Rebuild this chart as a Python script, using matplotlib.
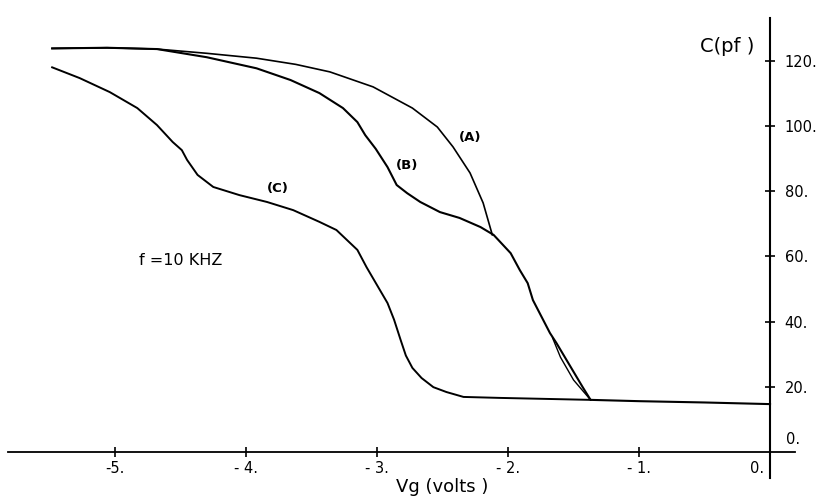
import matplotlib.pyplot as plt

# C-V curves (gate voltage in volts, capacitance in pF)
vg_a = [-5.48, -5.06, -4.68, -4.30, -3.92, -3.62, -3.36, -3.03, -2.73, -2.54,
        -2.42, -2.29, -2.19, -2.12]
c_a = [123.8, 124.0, 123.6, 122.3, 120.8, 118.9, 116.6, 112.0, 105.5, 99.7,
       93.6, 85.6, 76.4, 66.6]

vg_b = [-5.48, -5.06, -4.68, -4.30, -3.92, -3.66, -3.44, -3.26, -3.15, -3.09, -3.01,
        -2.92, -2.85, -2.77, -2.67, -2.52, -2.37, -2.21, -2.11, -1.98, -1.91, -1.85,
        -1.81, -1.68, -1.63, -1.43, -1.37, -1.0, -0.5, 0.0]
c_b = [123.8, 124.0, 123.6, 121.1, 117.7, 114.1, 110.1, 105.5, 101.2, 97.2, 93.0,
       87.4, 81.9, 79.4, 76.7, 73.6, 71.8, 69.0, 66.6, 61.0, 55.8, 51.8,
       46.6, 36.5, 33.4, 19.9, 16.0, 15.6, 15.2, 14.7]

# small hysteresis loop near the foot of curve B
vg_loop = [-1.66, -1.60, -1.50, -1.37]
c_loop = [35.0, 29.1, 22.1, 16.0]

vg_c = [-5.48, -5.27, -5.04, -4.83, -4.68, -4.56, -4.49, -4.45, -4.37, -4.25, -4.05,
        -3.84, -3.64, -3.44, -3.31, -3.15, -3.08, -3.00, -2.92, -2.87, -2.82, -2.78,
        -2.73, -2.66, -2.57, -2.47, -2.34, -2.06, -1.37]
c_c = [118.0, 114.7, 110.4, 105.5, 100.3, 95.1, 92.6, 89.6, 85.0, 81.3, 78.8,
       76.7, 74.2, 70.6, 68.1, 62.0, 56.7, 51.2, 45.7, 40.6, 34.4, 29.6,
       25.8, 22.7, 19.9, 18.4, 16.9, 16.6, 16.0]

x_ticks = [-5, -4, -3, -2, -1]
x_labels = ['-5.', '- 4.', '- 3.', '- 2.', '- 1.']
y_ticks = [20, 40, 60, 80, 100, 120]
y_labels = ['20.', '40.', '60.', '80.', '100.', '120.']

fig = plt.figure(figsize=(8.21, 4.98), dpi=100)
ax = fig.add_axes([0, 0, 1, 1])

ax.plot(vg_a, c_a, color='black', lw=1.2)
ax.plot(vg_b, c_b, color='black', lw=1.5)
ax.plot(vg_loop, c_loop, color='black', lw=1.0)
ax.plot(vg_c, c_c, color='black', lw=1.4)

ax.set_xlim(-5.878, 0.389)
ax.set_ylim(-14.1, 138.65)

for s in ['left', 'top']:
    ax.spines[s].set_visible(False)
ax.spines['right'].set_position(('data', 0))
ax.spines['right'].set_bounds(-8, 133)
ax.spines['bottom'].set_position(('data', 0))
ax.spines['bottom'].set_bounds(-5.82, 0.19)
ax.spines['right'].set_linewidth(1.5)
ax.spines['bottom'].set_linewidth(1.3)

ax.yaxis.set_ticks_position('right')
ax.xaxis.set_ticks_position('bottom')
ax.set_xticks(x_ticks, x_labels)
ax.set_yticks(y_ticks, y_labels)
ax.tick_params(axis='both', direction='inout', length=7, width=1.2, labelsize=10.5)
ax.tick_params(axis='y', pad=7)
ax.tick_params(axis='x', pad=3)

ax.text(-0.10, -5.2, '0.', fontsize=10.5, ha='center', va='center')
ax.text(0.12, 3.7, '0.', fontsize=10.5, ha='left', va='center')

ax.text(-0.33, 124.3, 'C(pf )', fontsize=14, ha='center', va='center')
ax.text(-2.50, -10.8, 'Vg (volts )', fontsize=13, ha='center', va='center')

ax.text(-2.29, 96.6, '(A)', fontsize=9.5, fontweight='bold', ha='center', va='center')
ax.text(-2.77, 88.0, '(B)', fontsize=9.5, fontweight='bold', ha='center', va='center')
ax.text(-3.76, 80.7, '(C)', fontsize=9.5, fontweight='bold', ha='center', va='center')
ax.text(-4.50, 58.6, 'f =10 KHZ', fontsize=11.5, ha='center', va='center')

fig.savefig('out.png', dpi=100, facecolor='white')
